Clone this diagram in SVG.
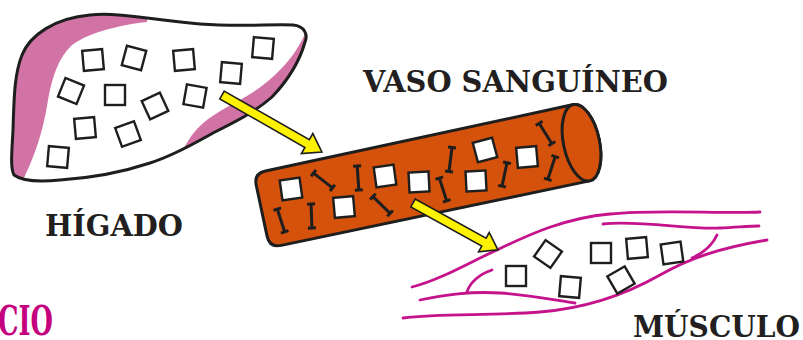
<svg xmlns="http://www.w3.org/2000/svg" xmlns:xlink="http://www.w3.org/1999/xlink" width="803" height="340" viewBox="0 0 803 340">
  <style>
    .ink { stroke: #1e1e1e; fill: none; }
    .sq { fill: #ffffff; stroke: #1e1e1e; stroke-width: 2.4; }
    .sqo { fill: none; stroke: #1e1e1e; stroke-width: 2.4; }
    .fiber { fill: none; stroke: #c4138b; stroke-width: 2.8; stroke-linecap: round; }
    .label { font-family: "DejaVu Serif", "Liberation Serif", serif; font-weight: bold; font-size: 30px; fill: #231f20; }
    .arrow { fill: #fff200; stroke: #1e1e1e; stroke-width: 1.6; stroke-linejoin: miter; }
  </style>
  <defs>
    <rect id="box" x="-10" y="-10" width="20" height="20"/>
    <!-- small dumbbell-shaped particle -->
    <g id="bar" stroke="#1e1e1e" stroke-width="3" stroke-linecap="butt">
      <line x1="0" y1="-12" x2="0" y2="12"/>
      <line x1="-4" y1="-12" x2="4" y2="-12"/>
      <line x1="-4" y1="12" x2="4" y2="12"/>
    </g>
    <clipPath id="liverClip">
      <path id="liverShape" d="M22,55 C30,35 55,18 90,15 C120,12 150,20 200,24 C240,27 270,24 293,25 C305,26 308,35 305,42 C300,60 290,78 272,97 C255,112 235,122 213,133 C195,143 175,155 150,163 C120,173 90,178 60,180 C40,182 22,181 14,175 C10,168 12,150 13,130 C14,100 14,75 22,55 Z"/>
    </clipPath>
  </defs>

  <!-- Liver -->
  <g id="liver">
    <use xlink:href="#liverShape" fill="#d173a5"/>
    <path clip-path="url(#liverClip)" fill="#ffffff" d="M147,22 C120,25 90,32 72,45 C58,58 52,78 48,100 C44,125 38,150 22,182 L22,195 L170,195 L175,165 C180,155 185,145 192,135 C205,118 222,110 240,100 C255,92 268,82 280,70 C292,58 300,45 306,32 L306,5 L147,5 Z"/>
    <use xlink:href="#liverShape" class="ink" stroke-width="3"/>
    <g class="sqo">
      <use xlink:href="#box" transform="translate(93,60) rotate(-5)"/>
      <use xlink:href="#box" transform="translate(134,58) rotate(15)"/>
      <use xlink:href="#box" transform="translate(184,60) rotate(-5)"/>
      <use xlink:href="#box" transform="translate(263,48) rotate(5)"/>
      <use xlink:href="#box" transform="translate(231,73) rotate(5)"/>
      <use xlink:href="#box" transform="translate(71,91) rotate(22)"/>
      <use xlink:href="#box" transform="translate(115,95)"/>
      <use xlink:href="#box" transform="translate(155,106) rotate(-25)"/>
      <use xlink:href="#box" transform="translate(195,96) rotate(10)"/>
      <use xlink:href="#box" transform="translate(85,128) rotate(-5)"/>
      <use xlink:href="#box" transform="translate(128,134) rotate(-20)"/>
      <use xlink:href="#box" transform="translate(58,157) rotate(5)"/>
    </g>
    <text class="label" x="45" y="236" textLength="138" lengthAdjust="spacingAndGlyphs">HÍGADO</text>
  </g>

  <!-- Blood vessel -->
  <g id="vessel">
    <g transform="translate(425,176) rotate(-12)">
      <path d="M-155,-38 L160,-39 A18,39 0 0 1 160,39 L-155,38 Q-167,38 -167,26 L-167,-26 Q-167,-38 -155,-38 Z" fill="#d4520b" stroke="#1e1e1e" stroke-width="3"/>
      <ellipse cx="160" cy="0" rx="18" ry="39" fill="#d4520b" stroke="#1e1e1e" stroke-width="3"/>
    </g>
    <g class="sq">
      <use xlink:href="#box" transform="translate(291,189) rotate(-8)"/>
      <use xlink:href="#box" transform="translate(344,207) rotate(-5)"/>
      <use xlink:href="#box" transform="translate(385,176) rotate(-8)"/>
      <use xlink:href="#box" transform="translate(419,182) rotate(-3)"/>
      <use xlink:href="#box" transform="translate(476,181) rotate(-3)"/>
      <use xlink:href="#box" transform="translate(485,150) rotate(-15)"/>
      <use xlink:href="#box" transform="translate(527,157) rotate(-5)"/>
    </g>
    <use xlink:href="#bar" transform="translate(323,180.5) rotate(-52)"/>
    <use xlink:href="#bar" transform="translate(358,178) rotate(-4)"/>
    <use xlink:href="#bar" transform="translate(281,220.5) rotate(-18)"/>
    <use xlink:href="#bar" transform="translate(311.5,216) rotate(-2)"/>
    <use xlink:href="#bar" transform="translate(381.5,205) rotate(-46)"/>
    <use xlink:href="#bar" transform="translate(443,189.5) rotate(-18)"/>
    <use xlink:href="#bar" transform="translate(450.5,159.5) rotate(7)"/>
    <use xlink:href="#bar" transform="translate(504.5,174.5) rotate(12)"/>
    <use xlink:href="#bar" transform="translate(545.5,133.5) rotate(-32)"/>
    <use xlink:href="#bar" transform="translate(551.5,168) rotate(18)"/>
    <text class="label" x="363" y="92" textLength="305" lengthAdjust="spacingAndGlyphs">VASO SANGUÍNEO</text>
  </g>

  <!-- Muscle -->
  <g id="muscle">
    <path class="fiber" d="M412,287 C440,280 470,262 497,250 C530,234 565,218 610,214 C660,209 720,214 760,212"/>
    <path class="fiber" d="M603,224 C640,220 690,230 720,228 C740,227 750,226 759,226"/>
    <path class="fiber" d="M767,240 C720,248 690,258 660,275 C630,292 590,308 540,312 C490,316 440,313 403,318"/>
    <path class="fiber" d="M420,300 C445,295 470,291 500,293 C530,295 555,300 575,303"/>
    <path class="fiber" d="M467,292 C470,282 480,274 492,270"/>
    <path class="fiber" d="M692,258 C705,252 713,244 717,235"/>
    <g class="sqo">
      <use xlink:href="#box" transform="translate(516,276)"/>
      <use xlink:href="#box" transform="translate(548,254) rotate(35)"/>
      <use xlink:href="#box" transform="translate(570,287) rotate(5)"/>
      <use xlink:href="#box" transform="translate(601,253)"/>
      <use xlink:href="#box" transform="translate(637,248) rotate(-5)"/>
      <use xlink:href="#box" transform="translate(672,253) rotate(-8)"/>
      <use xlink:href="#box" transform="translate(621,280) rotate(-30)"/>
    </g>
    <text class="label" x="633" y="337" textLength="167" lengthAdjust="spacingAndGlyphs">MÚSCULO</text>
  </g>

  <!-- Connectors -->
  <g id="connectors">
    <polygon class="arrow" transform="translate(222,95) rotate(29.7)" points="0,-4.5 98,-4.5 98,-11.5 115,0 98,11.5 98,4.5 0,4.5"/>
    <polygon class="arrow" transform="translate(413,203) rotate(28.9)" points="0,-4.5 81,-4.5 81,-11 97,0 81,11 81,4.5 0,4.5"/>
  </g>

  <!-- Partial heading at lower left -->
  <text x="-2" y="335" textLength="55" lengthAdjust="spacingAndGlyphs" font-family="'DejaVu Serif', 'Liberation Serif', serif" font-weight="bold" font-size="41" fill="#c4007e">CIO</text>
</svg>
